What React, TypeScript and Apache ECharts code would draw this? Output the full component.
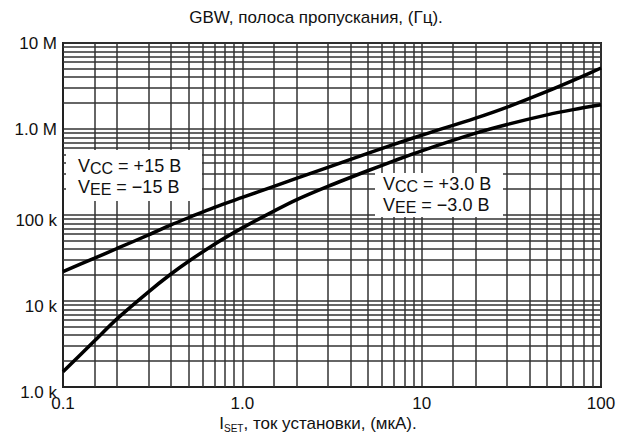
import React, { useEffect, useRef } from 'react';
import * as echarts from 'echarts';

// I_SET, мкА
const isetValues = [0.1, 0.15, 0.2, 0.3, 0.4, 0.5, 0.7, 1, 1.5, 2, 3, 5, 7, 10, 20, 30, 50, 70, 100];
// GBW, Гц, VCC = +15 B / VEE = -15 B
const gbw15 = [22000, 31500, 40800, 58600, 76600, 92900, 123000, 160000, 215000, 266000, 358000, 521000, 664000, 846000, 1340000, 1800000, 2740000, 3680000, 5120000];
// GBW, Гц, VCC = +3.0 B / VEE = -3.0 B
const gbw3 = [1500, 3450, 6200, 12800, 20600, 28800, 45800, 70800, 111000, 150000, 215000, 327000, 426000, 558000, 895000, 1130000, 1460000, 1680000, 1910000];

const xTickLabels = ['0.1', '1.0', '10', '100'];
const yTickLabels = ['1.0 k', '10 k', '100 k', '1.0 M', '10 M'];
const xDecades = [0.1, 1, 10];
const yDecades = [1000, 10000, 100000, 1000000];
const xMinorFactors = [1.5, 2, 3, 4, 5, 6, 7, 8, 9];
const yMinorFactors = [2, 3, 4, 5, 6, 7, 8, 9];

const titleText = 'GBW, полоса пропускания, (Гц).';
const FONT = '"Liberation Sans", Arial, Helvetica, sans-serif';
const GRID_COLOR = '#333';

export default function App() {
  const ref = useRef<HTMLDivElement>(null);
  useEffect(() => {
    if (!ref.current) return;
    const chart = echarts.init(ref.current, null, { renderer: 'svg' });

    const minorMarks: any[] = [];
    xDecades.forEach((d) => xMinorFactors.forEach((f) => minorMarks.push({ xAxis: +(d * f).toPrecision(6) })));
    yDecades.forEach((d) => yMinorFactors.forEach((f) => minorMarks.push({ yAxis: +(d * f).toPrecision(6) })));

    const mainRich = (fs: number, sub: number, lh: number) => ({
      v: { fontSize: fs, fontFamily: FONT, fill: '#111', lineHeight: lh, verticalAlign: 'middle' },
      s: { fontSize: sub, fontFamily: FONT, fill: '#111', lineHeight: 9, verticalAlign: 'bottom' },
    });

    const option: any = {
      animation: false,
      backgroundColor: '#fff',
      textStyle: { fontFamily: FONT },
      grid: { left: 63, top: 43, width: 538, height: 344, show: true, borderColor: '#222', borderWidth: 2, backgroundColor: 'transparent' },
      xAxis: {
        type: 'log',
        logBase: 10,
        min: 0.1,
        max: 100,
        axisLine: { show: true, lineStyle: { color: '#222', width: 2 } },
        axisTick: { show: false },
        splitLine: { show: true, lineStyle: { color: GRID_COLOR, width: 1.5 } },
        axisLabel: {
          show: true,
          showMinLabel: true,
          showMaxLabel: true,
          margin: 8,
          fontSize: 17,
          fontFamily: FONT,
          color: '#111',
          formatter: (v: number) => xTickLabels[Math.round(Math.log10(v)) + 1] ?? '',
        },
      },
      yAxis: {
        type: 'log',
        logBase: 10,
        min: 1000,
        max: 10000000,
        axisLine: { show: true, lineStyle: { color: '#222', width: 2 } },
        axisTick: { show: false },
        splitLine: { show: true, lineStyle: { color: GRID_COLOR, width: 1.5 } },
        axisLabel: {
          show: true,
          showMinLabel: true,
          showMaxLabel: true,
          margin: 6,
          fontSize: 17,
          fontFamily: FONT,
          color: '#111',
          formatter: (v: number) => {
            const i = Math.round(Math.log10(v)) - 3;
            const t = yTickLabels[i] ?? '';
            return i <= 2 ? `{k|${t}}` : t;
          },
          rich: {
            k: { fontSize: 17, fontFamily: FONT, color: '#111', padding: [10, 0, 0, 0] },
          },
        },
      },
      graphic: [
        {
          type: 'text',
          z: 100,
          style: { text: titleText, x: 316, y: 17, align: 'center', verticalAlign: 'middle', fontSize: 17, fontFamily: FONT, fill: '#111' },
        },
        {
          type: 'text',
          z: 100,
          style: {
            text: '{i|I}{s|SET}{i|, ток установки, (мкА).}',
            x: 318,
            y: 423,
            align: 'center',
            verticalAlign: 'middle',
            rich: {
              i: { fontSize: 17, fontFamily: FONT, fill: '#111', lineHeight: 20, verticalAlign: 'middle' },
              s: { fontSize: 10, fontFamily: FONT, fill: '#111', lineHeight: 9, verticalAlign: 'bottom' },
            },
          },
        },
        { type: 'rect', z: 100, shape: { x: 66, y: 150, width: 136, height: 51 }, style: { fill: '#fff' } },
        {
          type: 'text',
          z: 101,
          style: {
            text: '{v|V}{s|CC}{v| = +15 B}\n{v|V}{s|EE}{v| = −15 B}',
            x: 78,
            y: 176,
            align: 'left',
            verticalAlign: 'middle',
            rich: mainRich(18, 16, 21),
          },
        },
        { type: 'rect', z: 100, shape: { x: 375, y: 173, width: 128, height: 44 }, style: { fill: '#fff' } },
        {
          type: 'text',
          z: 101,
          style: {
            text: '{v|V}{s|CC}{v| = +3.0 B}\n{v|V}{s|EE}{v| = −3.0 B}',
            x: 383,
            y: 194,
            align: 'left',
            verticalAlign: 'middle',
            rich: mainRich(18, 16, 21),
          },
        },
      ],
      series: [
        {
          type: 'line',
          name: 'grid',
          z: 1,
          silent: true,
          data: [[1, 100000]],
          showSymbol: false,
          symbol: 'none',
          lineStyle: { opacity: 0 },
          markLine: {
            silent: true,
            symbol: ['none', 'none'],
            label: { show: false },
            lineStyle: { color: GRID_COLOR, width: 1.5, type: 'solid' },
            emphasis: { disabled: true },
            data: minorMarks,
          },
        },
        {
          type: 'line',
          name: '±15 B',
          z: 5,
          smooth: 0.3,
          symbol: 'none',
          lineStyle: { color: '#000', width: 3.5 },
          data: isetValues.map((x, i) => [x, gbw15[i]]),
        },
        {
          type: 'line',
          name: '±3.0 B',
          z: 5,
          smooth: 0.3,
          symbol: 'none',
          lineStyle: { color: '#000', width: 3.5 },
          data: isetValues.map((x, i) => [x, gbw3[i]]),
        },
      ],
    };
    chart.setOption(option);
    return () => chart.dispose();
  }, []);
  return <div ref={ref} style={{ position: 'fixed', left: 0, top: 0, width: 629, height: 439, background: '#fff' }} />;
}
